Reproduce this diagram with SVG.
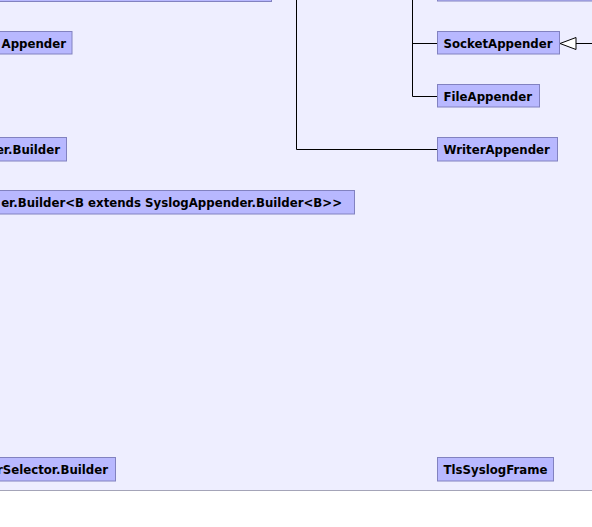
<svg xmlns="http://www.w3.org/2000/svg" width="592" height="527" viewBox="0 0 592 527">
<style>
.bg{fill:#eeeeff}
.n rect{fill:#b8b8ff;stroke:#8282c0;stroke-width:1}
.n text{font-family:"DejaVu Sans",Verdana,sans-serif;font-weight:bold;font-size:11.75px;fill:#000}
.c{stroke:#000;stroke-width:1;fill:none}
.tri{fill:#fff;stroke:#000;stroke-width:1}
</style>
<rect x="0" y="0" width="592" height="490" class="bg"/>
<line x1="0" y1="490.5" x2="592" y2="490.5" stroke="#a4a4b8" stroke-width="1"/>
<g id="connectors">
<polyline class="c" points="296.5,0 296.5,149.5 437,149.5"/>
<polyline class="c" points="412.5,0 412.5,96.5 437,96.5"/>
<line class="c" x1="412.5" y1="43.5" x2="437" y2="43.5"/>
<line class="c" x1="592" y1="43.5" x2="576" y2="43.5"/>
<polygon class="tri" points="560,43.5 576,37.5 576,49.5"/>
</g>
<g id="node-top-left" class="n"><rect x="-5" y="-22.5" width="276.5" height="24"/></g>
<g id="node-top-right" class="n"><rect x="437.5" y="-22.5" width="170" height="23.5"/></g>
<g id="node-appender" class="n"><rect x="-5" y="31.5" width="77" height="22.5"/><text x="66" y="48" text-anchor="end">Appender</text></g>
<g id="node-builder" class="n"><rect x="-5" y="137.5" width="71.5" height="23.5"/><text x="60" y="154" text-anchor="end">er.Builder</text></g>
<g id="node-syslog-builder" class="n"><rect x="-5" y="190.5" width="359.5" height="23.5"/><text x="342" y="207" text-anchor="end">er.Builder&lt;B extends SyslogAppender.Builder&lt;B&gt;&gt;</text></g>
<g id="node-selector-builder" class="n"><rect x="-5" y="457.5" width="120.5" height="23.5"/><text x="108" y="474" text-anchor="end">rSelector.Builder</text></g>
<g id="node-socket" class="n"><rect x="437.5" y="31.5" width="122" height="22.5"/><text x="443.5" y="48">SocketAppender</text></g>
<g id="node-file" class="n"><rect x="437.5" y="84.5" width="102" height="22.5"/><text x="443.5" y="101">FileAppender</text></g>
<g id="node-writer" class="n"><rect x="437.5" y="137.5" width="120" height="23.5"/><text x="443.5" y="154">WriterAppender</text></g>
<g id="node-tls" class="n"><rect x="437.5" y="457.5" width="116" height="23.5"/><text x="443.5" y="474">TlsSyslogFrame</text></g>
</svg>
